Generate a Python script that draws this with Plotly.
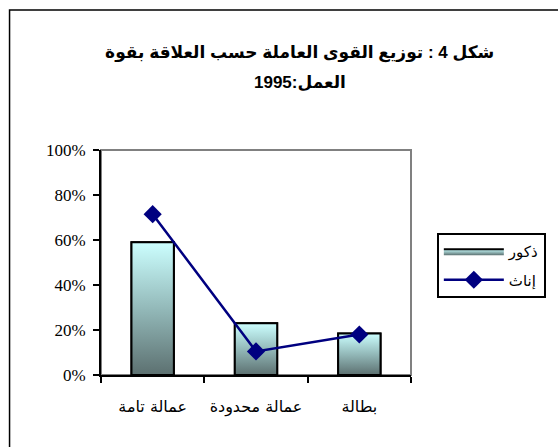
import plotly.graph_objects as go

categories = ["عمالة تامة", "عمالة محدودة", "بطالة"]
male = [0.59, 0.23, 0.185]      # ذكور
female = [0.715, 0.105, 0.18]   # إناث
y_ticks = [0, 0.2, 0.4, 0.6, 0.8, 1.0]
title_line1 = "شكل 4 : توزيع القوى العاملة حسب العلاقة بقوة"
title_line2 = "العمل:1995"
series_names = ["ذكور", "إناث"]

idx = list(range(len(categories)))
bar_w = 0.41

fig = go.Figure()

# base bars (outline)
fig.add_trace(go.Bar(
    x=idx, y=male, width=bar_w, showlegend=False,
    marker=dict(color="#9cc8c8", line=dict(color="black", width=2)),
    hoverinfo="skip",
))

# gradient fill overlay for each bar, derived from the bar values
for i, v in zip(idx, male):
    fig.add_trace(go.Scatter(
        x=[i - bar_w / 2, i + bar_w / 2, i + bar_w / 2, i - bar_w / 2, i - bar_w / 2],
        y=[0, 0, v, v, 0],
        mode="lines", fill="toself",
        fillgradient=dict(type="vertical",
                          colorscale=[[0, "#5c7070"], [0.5, "#93b9b9"], [1, "#ccffff"]]),
        line=dict(color="black", width=2),
        name=series_names[0], legendgroup="m", showlegend=(i == 0),
    ))

fig.add_trace(go.Scatter(
    x=idx, y=female, mode="lines+markers", name=series_names[1], legendgroup="f",
    line=dict(color="#000080", width=2.5),
    marker=dict(symbol="diamond", size=14, color="#000080"),
))

title_font = dict(family="Liberation Sans, DejaVu Sans", size=17, color="black", weight="bold")

fig.update_layout(
    width=558, height=447,
    margin=dict(l=101, r=145, t=150, b=72),
    paper_bgcolor="white", plot_bgcolor="white",
    title=dict(text=title_line1, xref="paper", x=0.641, xanchor="center",
               yref="container", y=1 - 52 / 447, yanchor="middle", font=title_font),
    annotations=[dict(text=title_line2, xref="paper", x=0.641, xanchor="center",
                      yref="paper", y=(375 - 82) / 225, yanchor="middle",
                      showarrow=False, font=title_font)],
    xaxis=dict(range=[-0.5, 2.5], tickvals=idx, ticktext=categories, ticks="",
               showgrid=False, zeroline=False, showline=True, linecolor="black", linewidth=2,
               tickfont=dict(family="DejaVu Sans", size=16, color="black"),
               ticklabelstandoff=16,
               minor=dict(tickvals=[-0.5, 0.5, 1.5, 2.5], ticks="outside", ticklen=6,
                          tickwidth=2, tickcolor="black", showgrid=False)),
    yaxis=dict(range=[0, 1], tickvals=y_ticks, tickformat=".0%", ticks="outside",
               ticklen=6, tickwidth=2, tickcolor="black", ticklabelstandoff=4,
               showgrid=False, zeroline=False, showline=True, linecolor="black", linewidth=2,
               tickfont=dict(family="Liberation Serif", size=17, color="black")),
    legend=dict(x=(439 - 101) / 312, xanchor="left", y=(375 - 233) / 225, yanchor="top",
                bordercolor="black", borderwidth=2, bgcolor="white",
                font=dict(family="DejaVu Sans", size=15, color="black"),
                itemwidth=60, tracegroupgap=6, traceorder="grouped"),
    shapes=[
        dict(type="rect", xref="x domain", yref="y domain", x0=0, x1=1, y0=0, y1=1,
             line=dict(color="#808080", width=2), layer="below"),
        dict(type="rect", xref="paper", yref="paper", x0=-0.295, x1=1.5, y0=-0.36, y1=1.622,
             line=dict(color="black", width=1.5), layer="below"),
    ],
)

fig.write_html("out.html", config={"displayModeBar": False},
               post_script="document.body.style.margin='0';")
